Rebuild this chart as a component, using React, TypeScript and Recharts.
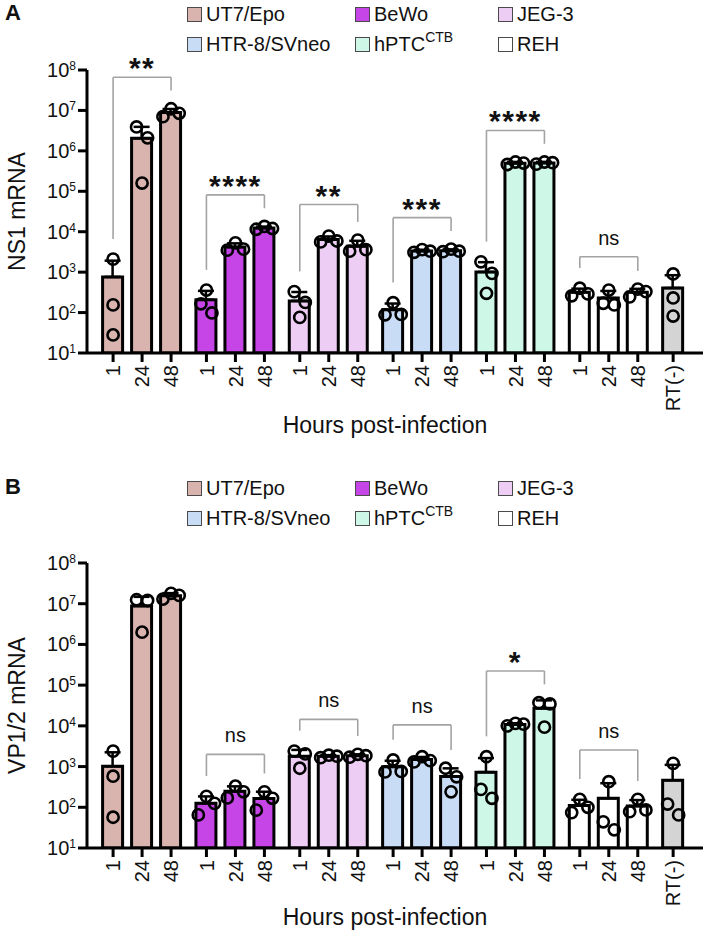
import React from 'react';
import {
  ComposedChart,
  Bar,
  Cell,
  ErrorBar,
  Scatter,
  XAxis,
  YAxis,
  ReferenceLine,
  Legend,
} from 'recharts';

const FONT = '"Liberation Sans", Arial, Helvetica, sans-serif';

// ---- categories ----
const cellLines = ['UT7/Epo', 'BeWo', 'JEG-3', 'HTR-8/SVneo', 'hPTC', 'REH'];
const hours = ['1', '24', '48'];
const controlLabel = 'RT(-)';
const lineColors = ['#d9b3ae', '#c645e6', '#eecdf4', '#c9dcf5', '#cef7e7', '#ffffff'];
const controlColor = '#d4d4d4';
const decadeTicks = [1e1, 1e2, 1e3, 1e4, 1e5, 1e6, 1e7, 1e8];

// ---- NS1 mRNA, three replicates per time point (1, 24, 48 h) ----
const ns1UT7 = [[2100, 155, 28], [3.9e6, 2.1e6, 1.6e5], [7e6, 1.1e7, 8.5e6]];
const ns1BeWo = [[360, 98, 165], [5300, 3500, 3700], [1.15e4, 1.35e4, 1.2e4]];
const ns1JEG3 = [[330, 178, 76], [7800, 5600, 5900], [6200, 3300, 3600]];
const ns1HTR = [[175, 88, 90], [3600, 3100, 3300], [3700, 3200, 3300]];
const ns1hPTC = [[1800, 930, 300], [5.3e5, 4.6e5, 5.0e5], [5.1e5, 4.7e5, 5.3e5]];
const ns1REH = [[400, 260, 290], [360, 155, 170], [380, 330, 245]];
const ns1Control = [900, 230, 82];
const ns1Significance = ['**', '****', '**', '***', '****', 'ns'];

// ---- VP1/2 mRNA ----
const vpUT7 = [[2400, 580, 57], [1.2e7, 1.25e7, 2.0e6], [1.3e7, 1.8e7, 1.6e7]];
const vpBeWo = [[185, 125, 65], [330, 240, 170], [240, 166, 85]];
const vpJEG3 = [[2400, 2050, 910], [1800, 1650, 1900], [1700, 1850, 2000]];
const vpHTR = [[1450, 740, 760], [1750, 1400, 1300], [910, 560, 240]];
const vphPTC = [[1750, 275, 166], [1.15e4, 1.0e4, 1.1e4], [3.7e4, 3.45e4, 9300]];
const vpREH = [[157, 100, 74], [425, 44, 28], [157, 86, 78]];
const vpControl = [1200, 120, 65];
const vpSignificance = ['***', 'ns', 'ns', 'ns', '*', 'ns'];

// ---- layout helpers ----
const GROUP_STEP = 3.22; // group spacing in bar units (bars within a group are 1 unit apart)
const X_DOMAIN: [number, number] = [-0.9, 20.35];
const posOf = (g: number, i: number) => g * GROUP_STEP + i;

type BarDatum = { x: number; mean: number; err: [number, number]; fill: string; maxLog: number };
type PointDatum = { px: number; y: number };

const mean = (v: number[]) => v.reduce((a, b) => a + b, 0) / v.length;
const sd = (v: number[]) => {
  const m = mean(v);
  return Math.sqrt(v.reduce((a, b) => a + (b - m) * (b - m), 0) / (v.length - 1));
};

// spread overlapping replicate dots sideways (in bar units)
function spread(values: number[]): number[] {
  const order = values
    .map((v, i) => ({ v, i, l: Math.log10(v) }))
    .sort((a, b) => a.l - b.l);
  const offsets = new Array(values.length).fill(0);
  const clusters: typeof order[] = [];
  order.forEach((p) => {
    const last = clusters[clusters.length - 1];
    if (last && p.l - last[last.length - 1].l < 0.3) last.push(p);
    else clusters.push([p]);
  });
  clusters.forEach((c) => {
    if (c.length === 2) {
      offsets[c[0].i] = 0.19;
      offsets[c[1].i] = -0.19;
    } else if (c.length >= 3) {
      offsets[c[0].i] = -0.28;
      offsets[c[1].i] = 0.28;
      offsets[c[2].i] = 0;
    }
  });
  return offsets;
}

function buildPanel(groups: number[][][], control: number[]) {
  const bars: BarDatum[] = [];
  const points: PointDatum[] = [];
  const ticks: number[] = [];
  const labels: string[] = [];
  const add = (x: number, vals: number[], fill: string, label: string) => {
    bars.push({
      x,
      mean: mean(vals),
      err: [0, sd(vals)],
      fill,
      maxLog: Math.max(...vals.map((v) => Math.log10(v))),
    });
    const off = spread(vals);
    vals.forEach((v, k) => points.push({ px: x + off[k], y: v }));
    ticks.push(x);
    labels.push(label);
  };
  groups.forEach((reps, g) => {
    reps.forEach((vals, i) => add(posOf(g, i), vals, lineColors[g], hours[i]));
  });
  add(posOf(groups.length, 0), control, controlColor, controlLabel);
  return { bars, points, ticks, labels };
}

const ns1Panel = buildPanel([ns1UT7, ns1BeWo, ns1JEG3, ns1HTR, ns1hPTC, ns1REH], ns1Control);
const vpPanel = buildPanel([vpUT7, vpBeWo, vpJEG3, vpHTR, vphPTC, vpREH], vpControl);

// ---- axis ticks ----
const PowerTick = (props: any) => {
  const { x, y, payload } = props;
  const exp = Math.round(Math.log10(payload.value));
  return (
    <text x={x} y={y + 7} textAnchor="end" fontFamily={FONT} fontSize={20} fill="#111">
      <tspan>10</tspan>
      <tspan dy={-7} fontSize={12}>{exp}</tspan>
    </text>
  );
};

const makeHourTick = (labels: string[]) => (props: any) => {
  const { x, y, index } = props;
  return (
    <text
      x={x}
      y={y}
      transform={`rotate(-90 ${x} ${y})`}
      textAnchor="end"
      dy="0.36em"
      fontFamily={FONT}
      fontSize={20}
      fill="#111"
    >
      {labels[index]}
    </text>
  );
};

// ---- legend ----
const legendCols = [187, 355, 498];

const LegendBlock = ({ rows }: { rows: number[] }) => (
  <div style={{ position: 'relative', width: 706, height: 60, fontFamily: FONT }}>
    {cellLines.map((name, i) => {
      const col = i % 3;
      const row = Math.floor(i / 3);
      return (
        <div
          key={name}
          style={{
            position: 'absolute',
            left: legendCols[col],
            top: rows[row] - 11,
            height: 22,
            display: 'flex',
            alignItems: 'center',
            whiteSpace: 'nowrap',
          }}
        >
          <span
            style={{
              display: 'inline-block',
              width: 15,
              height: 15,
              boxSizing: 'border-box',
              background: lineColors[i],
              border: '1.5px solid #4a4a4a',
            }}
          />
          <span style={{ marginLeft: 4, fontSize: 20, color: '#111', lineHeight: '22px' }}>
            {name}
            {name === 'hPTC' ? (
              <sup style={{ fontSize: 14, verticalAlign: 'top', lineHeight: '12px', position: 'relative', top: -2 }}>CTB</sup>
            ) : null}
          </span>
        </div>
      );
    })}
  </div>
);

// ---- significance brackets ----
const BRACKET = '#a3a3a3';

function brackets(bars: BarDatum[], sig: string[]) {
  const out: React.ReactNode[] = [];
  sig.forEach((s, g) => {
    const b = bars.slice(g * 3, g * 3 + 3);
    const topLog = Math.max(...b.map((d) => d.maxLog)) + 0.78;
    const top = Math.pow(10, topLog);
    const legL = Math.pow(10, Math.min(b[0].maxLog + 0.5, topLog - 0.12));
    const legR = Math.pow(10, Math.min(b[2].maxLog + 0.45, topLog - 0.12));
    const x1 = b[0].x;
    const x2 = b[2].x;
    const isStars = s !== 'ns';
    out.push(
      <ReferenceLine
        key={`t${g}`}
        segment={[{ x: x1, y: top }, { x: x2, y: top }]}
        stroke={BRACKET}
        strokeWidth={1.6}
        label={(lp: any) => {
          const vb = lp.viewBox || {};
          const cx = (vb.x ?? 0) + (vb.width ?? 0) / 2;
          const cy = vb.y ?? 0;
          return (
            <text
              x={cx}
              y={isStars ? cy + 1 : cy - 12}
              textAnchor="middle"
              fontFamily={FONT}
              fontSize={isStars ? 30 : 20}
              fontWeight={isStars ? 'bold' : 'normal'}
              letterSpacing={isStars ? 1.5 : 0}
              fill="#111"
            >
              {s}
            </text>
          );
        }}
      />,
      <ReferenceLine
        key={`l${g}`}
        segment={[{ x: x1, y: legL }, { x: x1, y: top }]}
        stroke={BRACKET}
        strokeWidth={1.6}
      />,
      <ReferenceLine
        key={`r${g}`}
        segment={[{ x: x2, y: legR }, { x: x2, y: top }]}
        stroke={BRACKET}
        strokeWidth={1.6}
      />
    );
  });
  return out;
}

const Dot = (p: any) => (
  <circle cx={p.cx} cy={p.cy} r={5.6} fill="none" stroke="#000" strokeWidth={2.6} />
);

type PanelProps = {
  letter: string;
  yTitle: string;
  panel: ReturnType<typeof buildPanel>;
  sig: string[];
  height: number;
  marginTop: number;
  axisHeight: number;
  titleDy: number;
  legendRows: number[];
};

const PanelChart = ({ letter, yTitle, panel, sig, height, marginTop, axisHeight, titleDy, legendRows }: PanelProps) => (
  <div style={{ position: 'relative', width: 706, height }}>
    <div
      style={{
        position: 'absolute',
        left: 5,
        top: legendRows[0] - 14,
        fontFamily: FONT,
        fontWeight: 'bold',
        fontSize: 22,
        color: '#111',
      }}
    >
      {letter}
    </div>
    <ComposedChart
      width={706}
      height={height}
      data={panel.bars}
      margin={{ top: marginTop, right: 3, bottom: 0, left: 0 }}
    >
      <Legend
        layout="vertical"
        align="center"
        verticalAlign="middle"
        wrapperStyle={{ top: 0, left: 0, width: 706, height: 60 }}
        content={() => <LegendBlock rows={legendRows} />}
      />
      <XAxis
        type="number"
        dataKey="x"
        domain={X_DOMAIN}
        allowDataOverflow
        ticks={panel.ticks}
        interval={0}
        height={axisHeight}
        tick={makeHourTick(panel.labels)}
        tickSize={9}
        tickMargin={3}
        tickLine={{ stroke: '#000', strokeWidth: 3 }}
        axisLine={{ stroke: '#000', strokeWidth: 3 }}
        label={(lp: any) => {
          const vb = lp.viewBox || {};
          return (
            <text
              x={(vb.x ?? 0) + (vb.width ?? 0) / 2 - 10}
              y={(vb.y ?? 0) + titleDy + 8}
              textAnchor="middle"
              fontFamily={FONT}
              fontSize={23}
              fill="#111"
            >
              Hours post-infection
            </text>
          );
        }}
      />
      {/* separate, hidden x axis for the replicate dots so they don't narrow the bar band */}
      <XAxis xAxisId="dots" type="number" dataKey="px" domain={X_DOMAIN} allowDataOverflow hide />
      <YAxis
        type="number"
        scale="log"
        domain={[10, 1e8]}
        allowDataOverflow
        ticks={decadeTicks}
        interval={0}
        width={87}
        tick={PowerTick}
        tickSize={9}
        tickMargin={2}
        tickLine={{ stroke: '#000', strokeWidth: 3 }}
        axisLine={{ stroke: '#000', strokeWidth: 3 }}
        label={(lp: any) => {
          const vb = lp.viewBox || {};
          const cy = (vb.y ?? 0) + (vb.height ?? 0) / 2;
          return (
            <text
              x={17}
              y={cy}
              transform={`rotate(-90 17 ${cy})`}
              textAnchor="middle"
              dominantBaseline="central"
              fontFamily={FONT}
              fontSize={23}
              fill="#111"
            >
              {yTitle}
            </text>
          );
        }}
      />
      {brackets(panel.bars, sig)}
      <Bar dataKey="mean" barSize={20} stroke="#000" strokeWidth={3} isAnimationActive={false}>
        {panel.bars.map((d, i) => (
          <Cell key={i} fill={d.fill} />
        ))}
        <ErrorBar dataKey="err" direction="y" width={8} stroke="#000" strokeWidth={2.5} />
      </Bar>
      <Scatter
        xAxisId="dots"
        data={panel.points}
        dataKey="y"
        shape={Dot}
        isAnimationActive={false}
      />
    </ComposedChart>
  </div>
);

export default function App() {
  return (
    <div style={{ position: 'absolute', left: 0, top: 0, width: 706, height: 939, background: '#fff' }}>
      <PanelChart
        letter="A"
        yTitle="NS1 mRNA"
        panel={ns1Panel}
        sig={ns1Significance}
        height={470}
        marginTop={70}
        axisHeight={117}
        titleDy={72}
        legendRows={[14, 44]}
      />
      <PanelChart
        letter="B"
        yTitle="VP1/2 mRNA"
        panel={vpPanel}
        sig={vpSignificance}
        height={469}
        marginTop={93}
        axisHeight={91}
        titleDy={69}
        legendRows={[18, 48]}
      />
    </div>
  );
}
